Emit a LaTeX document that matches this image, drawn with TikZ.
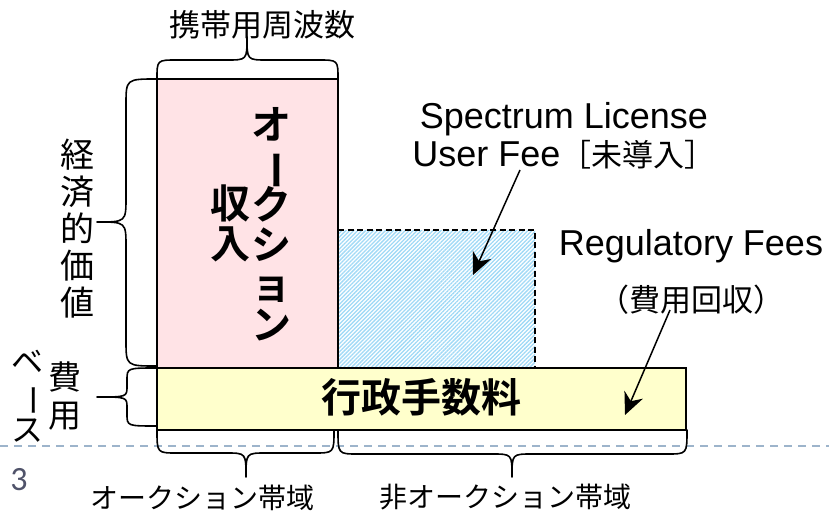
\documentclass[tikz,border=0pt]{standalone}
\usepackage{fontspec}
\usepackage{graphicx}
\setmainfont{Liberation Sans}
\newfontfamily\jpfont{Noto Sans CJK JP}[BoldFont={Noto Sans CJK JP Bold}]
\newfontfamily\pgnumfont{Carlito}
\usetikzlibrary{patterns.meta,arrows.meta}
\definecolor{pinkfill}{HTML}{FFE3E6}
\definecolor{yellowfill}{HTML}{FFFFCC}
\definecolor{hatchblue}{HTML}{9FD9F6}
\definecolor{sepline}{HTML}{9DB4CB}
\definecolor{pagegray}{HTML}{50536A}
\newcommand\jpsz[2]{\jpfont\fontsize{#1}{#2}\selectfont\lineskiplimit=-100pt\relax}
\newcommand\vbar{\rotatebox[origin=c]{-90}{ー}}
\tikzset{
  boxstyle/.style={draw=black, line width=1.5pt, inner sep=0pt, outer sep=0pt, anchor=north west},
  bracestyle/.style={line width=1.6pt, line join=round, line cap=round},
  vstack/.style={align=center, inner sep=0pt},
  plain/.style={inner sep=0pt},
  arrowstyle/.style={line width=1.5pt, -{Stealth[length=22pt,width=20pt,inset=7pt]}},
}
\begin{document}
\begin{tikzpicture}[x=1pt,y=-1pt]
\useasboundingbox (0,0) rectangle (829,513);
% separator line
\coordinate (sepL) at (0,446);
\coordinate (sepR) at (829,446);
\draw[sepline, line width=1.8pt, dash pattern=on 8pt off 6pt] (sepL) -- (sepR);
% hatched area
\node[anchor=north west, inner sep=0pt, outer sep=0pt, minimum width=197pt, minimum height=138pt,
      pattern={Lines[angle=45,distance=2.8pt,line width=1.3pt]}, pattern color=hatchblue] (hatch) at (338,230) {};
\draw[line width=1.5pt, dash pattern=on 6pt off 3.5pt] (hatch.north west) -- (hatch.north east) -- (hatch.south east);
% boxes
\node[boxstyle, fill=pinkfill, minimum width=181pt, minimum height=289pt] (auc) at (157,79) {};
\node[boxstyle, fill=yellowfill, minimum width=529pt, minimum height=62pt] (adm) at (157,368) {};
% texts
\node[plain, font=\jpsz{31}{31}] (freq) at (262,25) {携帯用周波数};
\node[vstack, font=\jpsz{34}{37}] (econ) at (77,229) {経\\済\\的\\価\\値};
\node[vstack, font=\jpsz{33}{38}] (cost) at (65,396) {費\\用};
\node[vstack, font=\jpsz{32}{34}] (base) at (28,396) {ベ\\\vbar\\ス};
\node[vstack, font=\jpsz{40}{40}\bfseries] (auct) at (271,224) {オ\\\vbar\\ク\\シ\\ョ\\ン};
\node[vstack, font=\jpsz{40}{40}\bfseries] (rev) at (230,223) {収\\入};
\node[plain, font=\jpsz{40}{40}\bfseries] (admin) at (421,397) {行政手数料};
\node[vstack, font=\fontsize{36}{38}\selectfont] (spec) at (564,136) {Spectrum License\\User Fee{\jpsz{31}{38}［未導入］}};
\node[plain, font=\fontsize{36}{36}\selectfont] (reg) at (691,246) {Regulatory Fees};
\node[plain, font=\jpsz{31}{31}] (recov) at (691,300) {（費用回収）};
\node[plain, font=\jpsz{28}{28}] (aucband) at (202,498) {オークション帯域};
\node[plain, font=\jpsz{28}{28}] (nonaucband) at (505,497) {非オークション帯域};
\node[plain, font=\pgnumfont\fontsize{34}{34}\selectfont, text=pagegray] (pg) at (19,480) {3};
% braces
\draw[bracestyle] (157,79) .. controls (157,60) .. (177,60) -- (227,60) .. controls (247,60) .. (247,37)
  .. controls (247,60) .. (267,60) -- (318,60) .. controls (338,60) .. (338,79);
\draw[bracestyle] (157,79) .. controls (126,79) .. (126,105) -- (126,197) .. controls (126,222) .. (97,222)
  .. controls (126,222) .. (126,247) -- (126,340) .. controls (126,366) .. (157,366);
\draw[bracestyle] (157,368) .. controls (127,368) .. (127,380) -- (127,386) .. controls (127,397) .. (97,397)
  .. controls (127,397) .. (127,408) -- (127,414) .. controls (127,426) .. (157,426);
\draw[bracestyle] (157,430) .. controls (157,453) .. (177,453) -- (226,453) .. controls (246,453) .. (246,477)
  .. controls (246,453) .. (266,453) -- (314,453) .. controls (334,453) .. (334,430);
\draw[bracestyle] (338,430) .. controls (338,454) .. (358,454) -- (492,454) .. controls (512,454) .. (512,477)
  .. controls (512,454) .. (532,454) -- (667,454) .. controls (687,454) .. (687,430);
% arrows
\coordinate (specfrom) at (520,170);
\coordinate (specto) at (473,275);
\coordinate (regfrom) at (670,310);
\coordinate (regto) at (625,415);
\draw[arrowstyle] (specfrom) -- (specto);
\draw[arrowstyle] (regfrom) -- (regto);
\end{tikzpicture}
\end{document}
